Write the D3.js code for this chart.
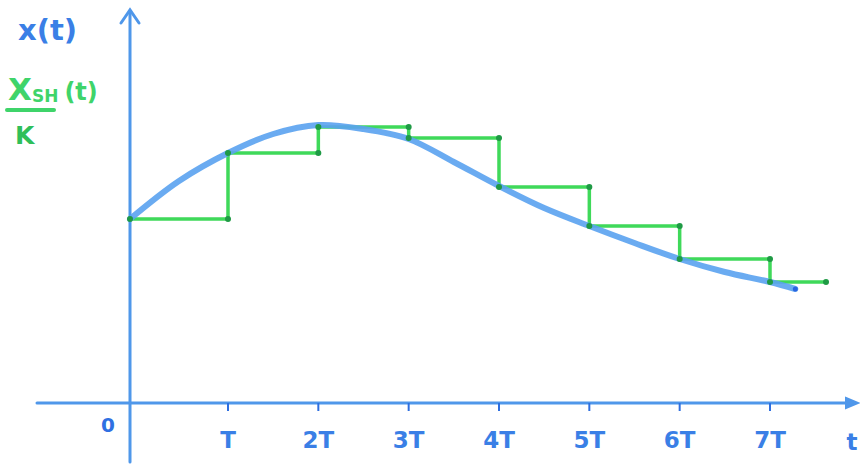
<!DOCTYPE html>
<html lang="en">
  <head>
    <meta charset="utf-8"/>
    <script src="https://d3js.org/d3.v7.min.js"></script>
    <title>Sample and hold</title>
  </head>
  <body style="margin:0;background:#fff">
    <svg id="chart"></svg>
  </body>

  <style>
  text { font-family: "DejaVu Sans", sans-serif; font-weight: bold; }
  .axis { stroke: #4f97ea; stroke-width: 3px; fill: none; stroke-linecap: round; }
  .curve { fill: none; stroke: #5aa2ef; stroke-width: 6px; stroke-linecap: round; stroke-linejoin: round; }
  .hold { fill: none; stroke: #3fd95a; stroke-width: 3.5px; stroke-linejoin: round; }
  </style>

  <script>
    const width = 860;
    const height = 467;

    // ticks along the time axis (multiples of T)
    const tickValues = [1, 2, 3, 4, 5, 6, 7];
    const tickLabels = ["T", "2T", "3T", "4T", "5T", "6T", "7T"];

    // continuous signal x(t), t in units of T
    const curveT = [0, 0.5, 1, 1.5, 2, 2.5, 3, 3.5, 4, 4.5, 5, 5.5, 6, 6.5, 7, 7.28];
    const curveX = [1.84, 2.22, 2.50, 2.69, 2.78, 2.74, 2.64, 2.41, 2.17, 1.95, 1.77, 1.60, 1.44, 1.31, 1.21, 1.14];

    // held samples x_SH(t)/K
    const sampleT = [0, 1, 2, 3, 4, 5, 6, 7];
    const sampleX = [1.84, 2.50, 2.76, 2.65, 2.16, 1.77, 1.44, 1.21];
    const holdEnd = 7.62;

    const svg = d3.select("#chart")
      .attr("width", width)
      .attr("height", height);

    // hand-drawn spacing: first interval slightly wider
    const x = d3.scaleLinear().domain([0, 1, 7]).range([130, 228, 770]);
    const y = d3.scaleLinear().domain([0, 4]).range([403, 3]);

    // axes
    svg.append("line").attr("class", "axis")
      .attr("x1", 37).attr("y1", y(0)).attr("x2", 852).attr("y2", y(0));
    svg.append("path")
      .attr("d", "M846,398 L858,403 L846,408 Z")
      .attr("fill", "#4f97ea").attr("stroke", "#4f97ea").attr("stroke-width", 2);
    svg.append("line").attr("class", "axis")
      .attr("x1", x(0)).attr("y1", 462).attr("x2", x(0)).attr("y2", 12);
    svg.append("path")
      .attr("d", "M121,23 L130,10 L139,23")
      .attr("class", "axis");

    // tick marks and labels
    svg.selectAll(".tick")
      .data(tickValues)
      .join("line")
      .attr("class", "tick")
      .attr("x1", d => x(d)).attr("x2", d => x(d))
      .attr("y1", y(0)).attr("y2", y(0) + 8)
      .attr("stroke", "#2e6fe0").attr("stroke-width", 2);

    svg.selectAll(".tlabel")
      .data(tickValues)
      .join("text")
      .attr("class", "tlabel")
      .attr("x", d => x(d))
      .attr("y", 448)
      .attr("text-anchor", "middle")
      .attr("font-size", 23)
      .attr("fill", "#3a7fe6")
      .text((d, i) => tickLabels[i]);

    svg.append("text")
      .attr("x", 108).attr("y", 432)
      .attr("text-anchor", "middle")
      .attr("font-size", 20)
      .attr("fill", "#2f70e2")
      .text("0");

    svg.append("text")
      .attr("x", 852).attr("y", 450)
      .attr("text-anchor", "middle")
      .attr("font-size", 23)
      .attr("fill", "#3a7fe6")
      .text("t");

    // signal labels
    svg.append("text")
      .attr("x", 18).attr("y", 40)
      .attr("font-size", 29)
      .attr("fill", "#3a7fe6")
      .text("x(t)");

    const sh = svg.append("text")
      .attr("x", 8).attr("y", 100)
      .attr("font-size", 31)
      .attr("fill", "#3fd46a");
    sh.append("tspan").text("X");
    sh.append("tspan").attr("font-size", 17).attr("dy", 2).text("SH");
    sh.append("tspan").attr("font-size", 24).attr("dx", 6).attr("dy", -2).text("(t)");

    svg.append("line")
      .attr("x1", 7).attr("y1", 110).attr("x2", 54).attr("y2", 110)
      .attr("stroke", "#3fd46a").attr("stroke-width", 4).attr("stroke-linecap", "round");

    svg.append("text")
      .attr("x", 15).attr("y", 144)
      .attr("font-size", 25)
      .attr("fill", "#2fbf5a")
      .text("K");

    // sample and hold staircase
    const holdData = sampleT.map((t, i) => [t, sampleX[i]]);
    holdData.push([holdEnd, sampleX[sampleX.length - 1]]);

    svg.append("path")
      .datum(holdData)
      .attr("class", "hold")
      .attr("d", d3.line()
        .x(d => x(d[0]))
        .y(d => y(d[1]))
        .curve(d3.curveStepAfter));

    // continuous signal
    svg.append("path")
      .datum(curveT.map((t, i) => [t, curveX[i]]))
      .attr("class", "curve")
      .attr("opacity", 0.9)
      .attr("d", d3.line()
        .x(d => x(d[0]))
        .y(d => y(d[1]))
        .curve(d3.curveCatmullRom));

    // dots at the staircase corners
    const corners = [];
    sampleT.forEach((t, i) => {
      corners.push([t, sampleX[i]]);
      if (i > 0) corners.push([t, sampleX[i - 1]]);
    });
    corners.push([holdEnd, sampleX[sampleX.length - 1]]);

    svg.selectAll(".corner")
      .data(corners)
      .join("circle")
      .attr("class", "corner")
      .attr("cx", d => x(d[0]))
      .attr("cy", d => y(d[1]))
      .attr("r", 3)
      .attr("fill", "#1f9a45");

    svg.append("circle")
      .attr("cx", x(curveT[curveT.length - 1]))
      .attr("cy", y(curveX[curveX.length - 1]))
      .attr("r", 2.5)
      .attr("fill", "#2a64e0");
  </script>
</html>
